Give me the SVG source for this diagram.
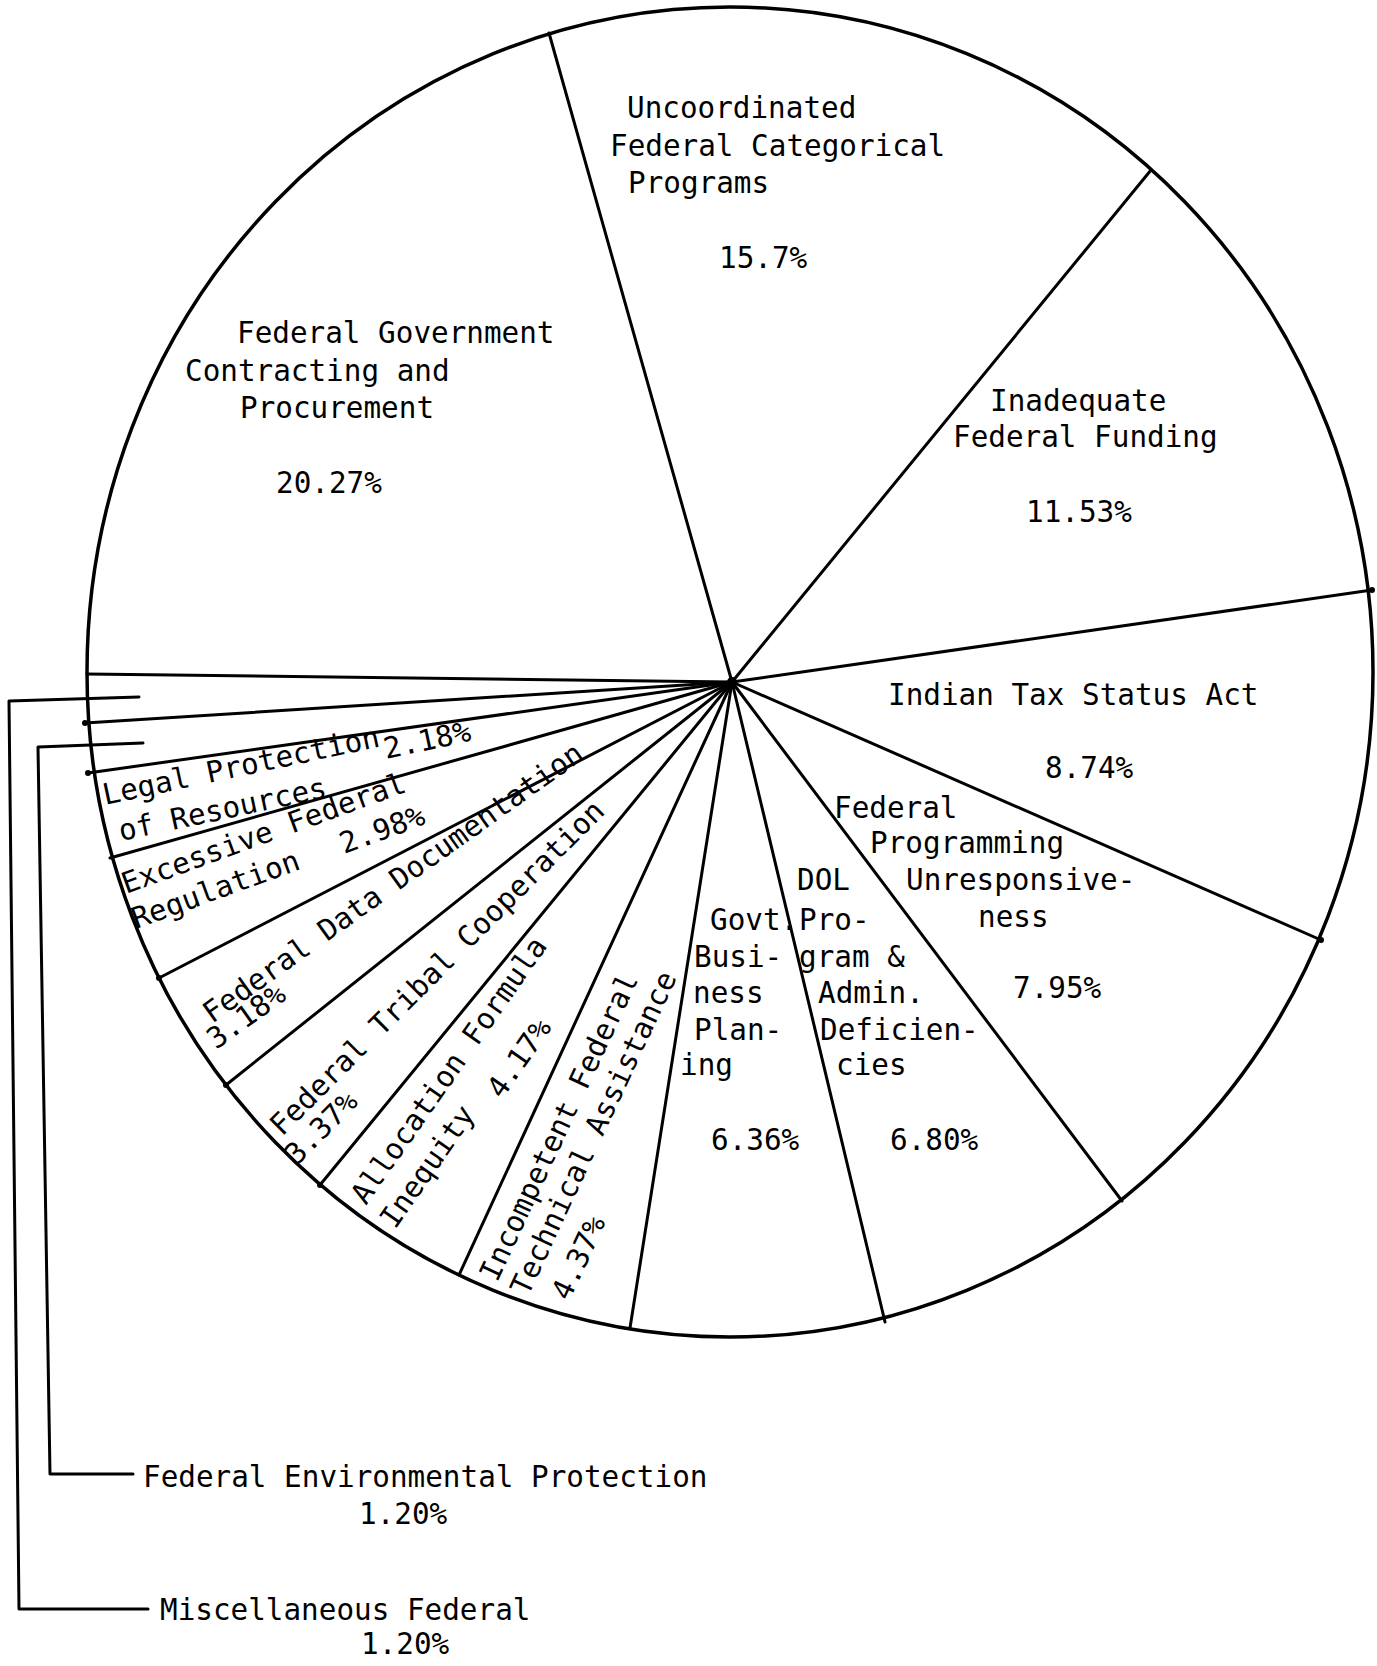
<svg xmlns="http://www.w3.org/2000/svg" width="1377" height="1666" viewBox="0 0 1377 1666">
<style>
.t{font-family:"DejaVu Sans Mono","Liberation Mono",monospace;font-size:29.3px;fill:#000}
.ln{stroke:#000;stroke-width:3;fill:none;stroke-linecap:round;stroke-linejoin:round}
.rim{stroke:#000;stroke-width:3.5;fill:none}
</style>
<rect x="0" y="0" width="1377" height="1666" fill="#fff"/>
<ellipse class="rim" cx="730" cy="672" rx="643" ry="665"/>
<g id="connectors">
<line class="ln" x1="732" y1="682" x2="549" y2="33"/>
<line class="ln" x1="732" y1="682" x2="1151" y2="170"/>
<line class="ln" x1="732" y1="682" x2="1372" y2="590"/>
<line class="ln" x1="732" y1="682" x2="1321" y2="940"/>
<line class="ln" x1="732" y1="682" x2="1122" y2="1201"/>
<line class="ln" x1="732" y1="682" x2="885" y2="1322"/>
<line class="ln" x1="732" y1="682" x2="630" y2="1328"/>
<line class="ln" x1="732" y1="682" x2="459" y2="1275"/>
<line class="ln" x1="732" y1="682" x2="320" y2="1185"/>
<line class="ln" x1="732" y1="682" x2="226" y2="1085"/>
<line class="ln" x1="732" y1="682" x2="159" y2="978"/>
<line class="ln" x1="732" y1="682" x2="110" y2="858"/>
<line class="ln" x1="732" y1="682" x2="88" y2="773"/>
<line class="ln" x1="732" y1="682" x2="85" y2="723"/>
<line class="ln" x1="732" y1="682" x2="87" y2="674"/>
<polyline class="ln" points="139,697 9,701 19,1609 148,1609"/>
<polyline class="ln" points="143,743 38,747 50,1474 133,1474"/>
<circle cx="732" cy="682" r="5"/>
<circle cx="1372" cy="590" r="3"/>
<circle cx="1321" cy="940" r="3"/>
<circle cx="85" cy="723" r="3"/>
<circle cx="88" cy="773" r="3"/>
<circle cx="159" cy="978" r="3"/>
<circle cx="226" cy="1085" r="3"/>
<circle cx="320" cy="1185" r="3"/>
</g>
<g id="uncoordinated">
<text class="t" x="627" y="118">Uncoordinated</text>
<text class="t" x="610" y="156">Federal Categorical</text>
<text class="t" x="628" y="193">Programs</text>
<text class="t" x="719" y="268">15.7%</text>
</g>
<g id="contracting">
<text class="t" x="237" y="343">Federal Government</text>
<text class="t" x="185" y="381">Contracting and</text>
<text class="t" x="240" y="418">Procurement</text>
<text class="t" x="276" y="493">20.27%</text>
</g>
<g id="funding">
<text class="t" x="990" y="411">Inadequate</text>
<text class="t" x="953" y="447">Federal Funding</text>
<text class="t" x="1026" y="522">11.53%</text>
</g>
<g id="taxstatus">
<text class="t" x="888" y="705">Indian Tax Status Act</text>
<text class="t" x="1045" y="778">8.74%</text>
</g>
<g id="programming">
<text class="t" x="834" y="818">Federal</text>
<text class="t" x="870" y="853">Programming</text>
<text class="t" x="906" y="890">Unresponsive-</text>
<text class="t" x="978" y="927">ness</text>
<text class="t" x="1013" y="998">7.95%</text>
</g>
<g id="dol">
<text class="t" x="797" y="890">DOL</text>
<text class="t" x="799" y="930">Pro-</text>
<text class="t" x="799" y="967">gram &amp;</text>
<text class="t" x="818" y="1003">Admin.</text>
<text class="t" x="820" y="1040">Deficien-</text>
<text class="t" x="836" y="1075">cies</text>
<text class="t" x="890" y="1150">6.80%</text>
</g>
<g id="govtbusiness">
<text class="t" x="710" y="930">Govt.</text>
<text class="t" x="694" y="967">Busi-</text>
<text class="t" x="693" y="1003">ness</text>
<text class="t" x="694" y="1040">Plan-</text>
<text class="t" x="680" y="1075">ing</text>
<text class="t" x="711" y="1150">6.36%</text>
</g>
<g id="legal">
<text class="t" transform="translate(105,805) rotate(-12)">Legal Protection</text>
<text class="t" transform="translate(121,841) rotate(-12)">of Resources</text>
<text class="t" transform="translate(386,759) rotate(-12)">2.18%</text>
</g>
<g id="regulation">
<text class="t" transform="translate(126,894) rotate(-20)">Excessive Federal</text>
<text class="t" transform="translate(136,929) rotate(-20)">Regulation</text>
<text class="t" transform="translate(344,854) rotate(-20)">2.98%</text>
</g>
<g id="datadoc">
<text class="t" transform="translate(212,1024) rotate(-35.5)">Federal Data Documentation</text>
<text class="t" transform="translate(216,1050) rotate(-35.5)">3.18%</text>
</g>
<g id="tribal">
<text class="t" transform="translate(282,1137) rotate(-45)">Federal Tribal Cooperation</text>
<text class="t" transform="translate(297,1166) rotate(-45)">3.37%</text>
</g>
<g id="allocation">
<text class="t" transform="translate(366,1206) rotate(-55)">Allocation Formula</text>
<text class="t" transform="translate(395,1230) rotate(-55)">Inequity</text>
<text class="t" transform="translate(502,1100) rotate(-55)">4.17%</text>
</g>
<g id="incompetent">
<text class="t" transform="translate(497,1283) rotate(-65)">Incompetent Federal</text>
<text class="t" transform="translate(528,1297) rotate(-65)">Technical Assistance</text>
<text class="t" transform="translate(569,1302) rotate(-65)">4.37%</text>
</g>
<g id="environmental">
<text class="t" x="143" y="1487">Federal Environmental Protection</text>
<text class="t" x="359" y="1524">1.20%</text>
</g>
<g id="misc">
<text class="t" x="160" y="1620">Miscellaneous Federal</text>
<text class="t" x="361" y="1654">1.20%</text>
</g>
</svg>
